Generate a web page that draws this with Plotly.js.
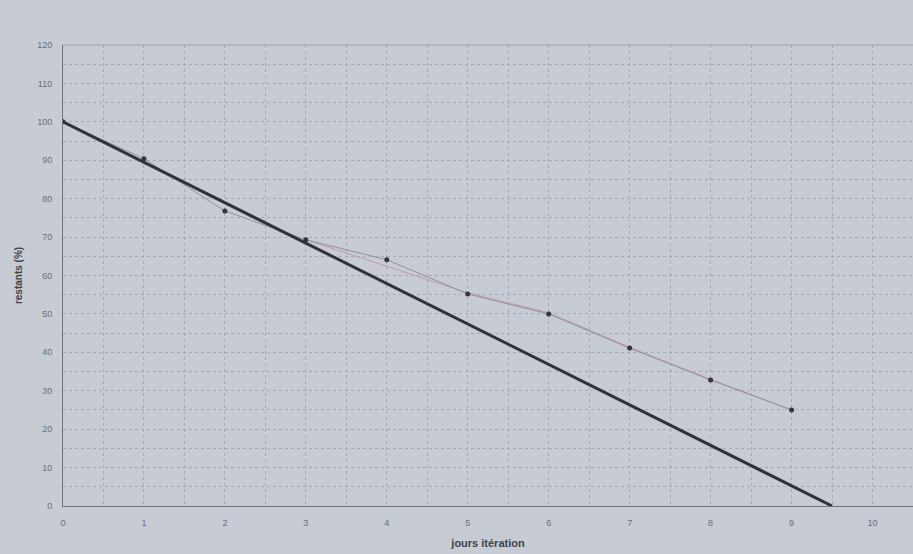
<!DOCTYPE html>
<html><head><meta charset="utf-8">
<script src="https://cdn.plot.ly/plotly-3.0.1.min.js"></script>
<style>html,body{margin:0;padding:0;background:#c6cbd4;}</style>
</head><body>
<div id="chart" style="width:913px;height:554px;"></div>
<script>
// Ideal burndown line
var idealX = [0, 9.5];
var idealY = [100, 0];
// Measured remaining (%)
var daysX = [0, 1, 2, 3, 4, 5, 6, 7, 8, 9];
var remainingY = [100, 90.4, 76.8, 69.3, 64.1, 55.2, 50, 41.1, 32.8, 25];
// Red trend line (second series)
var trendX = [3, 4, 5, 6, 7, 8, 9];
var trendY = [69.3, 62.5, 55.5, 50.3, 41.3, 33, 25];
var xTicks = [0,1,2,3,4,5,6,7,8,9,10];
var yTicks = [0,10,20,30,40,50,60,70,80,90,100,110,120];

var traces = [
  {x: trendX, y: trendY, mode: 'lines', line: {color: '#c99aa6', width: 1}, hoverinfo: 'skip'},
  {x: daysX, y: remainingY, mode: 'lines+markers', line: {color: '#8f949c', width: 1},
   marker: {color: '#33363c', size: 5}},
  {x: idealX, y: idealY, mode: 'lines', line: {color: '#2f3238', width: 3}}
];
var gridC = '#a5aab3';
var layout = {
  width: 913, height: 554,
  paper_bgcolor: '#c6cbd4', plot_bgcolor: '#c6cbd4',
  margin: {l: 63, r: 0, t: 45, b: 48},
  showlegend: false,
  font: {family: 'Liberation Sans, Arial, sans-serif', color: '#6b7079', size: 9},
  xaxis: {
    range: [0, 10.5], tickvals: xTicks, ticktext: xTicks.map(String),
    showgrid: true, gridcolor: gridC, griddash: 'dot', gridwidth: 1,
    minor: {dtick: 0.5, showgrid: true, gridcolor: gridC, griddash: 'dot', gridwidth: 1},
    zeroline: false, showline: true, linecolor: '#6f747c', linewidth: 1,
    ticks: '', ticklen: 0, ticklabelstandoff: 8,
    title: {text: 'jours itération', standoff: 12, font: {size: 11, color: '#3f434a', family: 'Liberation Sans, Arial, sans-serif', weight: 'bold'}}
  },
  yaxis: {
    range: [0, 120], tickvals: yTicks, ticktext: yTicks.map(String),
    showgrid: true, gridcolor: gridC, griddash: 'dot', gridwidth: 1,
    minor: {dtick: 5, showgrid: true, gridcolor: gridC, griddash: 'dot', gridwidth: 1},
    zeroline: false, showline: true, linecolor: '#6f747c', linewidth: 1,
    ticks: '', ticklen: 0, ticklabelstandoff: 8,
    title: {text: 'restants (%)', standoff: 12, font: {size: 10, color: '#3f434a', family: 'Liberation Sans, Arial, sans-serif', weight: 'bold'}}
  },
  shapes: [{type: 'line', xref: 'paper', yref: 'paper', x0: 0, x1: 1, y0: 1, y1: 1, line: {color: '#9ea3ab', width: 1}}]
};
Plotly.newPlot('chart', traces, layout, {displayModeBar: false, staticPlot: true});
</script>
</body></html>
